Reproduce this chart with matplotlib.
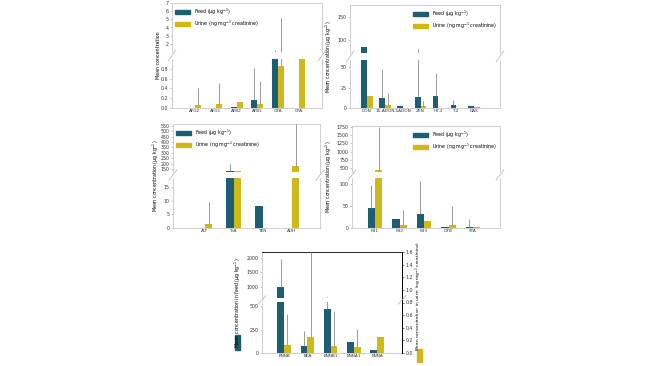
import numpy as np
import matplotlib.pyplot as plt
from matplotlib.patches import Rectangle

TEAL = "#1d5e73"
GOLD = "#cdb919"
ERR = "#8a8a8a"
FS = 3.4

# panel A - aflatoxins, OTA, CPA
a_labels = ["AFG2", "AFG1", "AFB2", "AFB1", "OTA", "CPA"]
a_feed = [0.0, 0.01, 0.02, 0.17, 1.0, 0.0]
a_feed_err = [0.0, 0.0, 0.0, 0.64, 0.26, 0.0]
a_urine = [0.055, 0.09, 0.12, 0.08, 0.86, 1.0]
a_urine_err = [0.35, 0.42, 0.0, 0.48, 4.3, 0.0]

# panel B - trichothecenes, ZEN
b_labels = ["DON", "15-ADON", "3-ADON", "ZEN", "HT-2", "T-2", "DAS"]
b_feed = [84, 12.5, 2.5, 14, 15, 3.4, 2.0]
b_feed_err = [0, 36, 0, 66, 28, 6.6, 0]
b_urine = [15, 3.4, 0.6, 3.0, 0.5, 0.5, 1.0]
b_urine_err = [0, 15, 0, 5, 0, 0, 0]

# panel C - Alternaria toxins
c_labels = ["ALT", "TeA", "TEN", "AOH"]
c_feed = [0.0, 132, 8.0, 0.0]
c_feed_err = [0, 65, 0, 0]
c_urine = [1.4, 128, 0.0, 178]
c_urine_err = [8.1, 0, 0, 400]

# panel D - fumonisins and others
d_labels = ["FB1", "FB2", "FB3", "OTB", "STA"]
d_feed = [45, 20, 32, 2.0, 1.5]
d_feed_err = [52, 0, 75, 0, 18]
d_urine = [440, 7, 15, 7, 2]
d_urine_err = [1320, 33, 0, 43, 0]

# panel E - emerging mycotoxins (urine on right axis)
e_labels = ["ENNB", "BEA", "ENNB1", "ENNA1", "ENNA"]
e_feed = [1010, 73, 470, 115, 30]
e_feed_err = [965, 157, 180, 0, 0]
e_urine = [0.13, 0.25, 0.11, 0.10, 0.25]
e_urine_err = [0.49, 1.35, 0.56, 0.28, 0.0]

feed_label = "Feed (\u03bcg kg$^{-1}$)"
urine_label = "Urine (ng mg$^{-1}$ creatinine)"

W, H = 650, 366
fig = plt.figure(figsize=(W / 100, H / 100), dpi=100)


def px(x0, y0, x1, y1):
    return [x0 / W, 1 - y1 / H, (x1 - x0) / W, (y1 - y0) / H]


def style(ax):
    for s in ax.spines.values():
        s.set_color("#c8c8c8")
        s.set_linewidth(0.6)
    ax.tick_params(labelsize=FS, length=1.5, width=0.4, color="#999999",
                   labelcolor="#333333", pad=1)


def bars(ax, x, w, vals, errs, color):
    ax.bar(x, vals, w, color=color, zorder=2)
    ax.errorbar(x, vals, yerr=[np.zeros(len(vals)), errs], fmt="none",
                ecolor=ERR, elinewidth=0.6, capsize=0, zorder=3)


def breaks(top, bot):
    # diagonal break marks on both sides of the gap
    for xa in (0, 1):
        p1 = fig.transFigure.inverted().transform(bot.transAxes.transform((xa, 1)))
        p2 = fig.transFigure.inverted().transform(top.transAxes.transform((xa, 0)))
        fig.add_artist(plt.Line2D([p1[0] - 0.006, p1[0] + 0.006],
                                  [p1[1] - 0.006, p2[1] + 0.006],
                                  color="#bbbbbb", lw=0.6))


def panel(rt, rb, labels, feed, ferr, urine, uerr, ylt, ylb, tt, tb, xlim, w,
          legend_loc, ylabel, ylab_x, urine_ax=True):
    top = fig.add_axes(rt)
    bot = fig.add_axes(rb)
    x = np.arange(len(labels))
    for ax in (top, bot):
        style(ax)
        bars(ax, x - w / 2, w, feed, ferr, TEAL)
        if urine_ax:
            bars(ax, x + w / 2, w, urine, uerr, GOLD)
        ax.set_xlim(*xlim)
    top.set_ylim(*ylt)
    bot.set_ylim(*ylb)
    top.set_yticks(tt)
    bot.set_yticks(tb)
    top.spines["bottom"].set_visible(False)
    bot.spines["top"].set_visible(False)
    top.tick_params(axis="x", bottom=False, labelbottom=False)
    bot.set_xticks(x)
    bot.set_xticklabels(labels)
    bot.tick_params(axis="x", length=0, labelsize=FS - 0.3)
    breaks(top, bot)
    if legend_loc:
        top.legend([Rectangle((0, 0), 1, 1, color=TEAL), Rectangle((0, 0), 1, 1, color=GOLD)],
                   [feed_label, urine_label], loc=legend_loc, fontsize=FS,
                   frameon=False, handlelength=3.2, handleheight=0.9,
                   borderaxespad=0.3, labelspacing=0.5)
    if ylabel:
        y0 = rb[1]
        y1 = rt[1] + rt[3]
        fig.text(ylab_x, (y0 + y1) / 2, ylabel, rotation=90, ha="center",
                 va="center", fontsize=FS)
    return top, bot


# panel A
panel(px(172, 3, 322, 52), px(172, 59, 322, 108), a_labels, a_feed, a_feed_err,
      a_urine, a_urine_err, (1.0, 7.0), (0, 1.0), [2, 3, 4, 5, 6, 7],
      [0, 0.2, 0.4, 0.6, 0.8], (-1.1, 6.1), 0.29, "upper left",
      "Mean concentration", 158 / W)

# panel B
panel(px(350, 5, 500, 53), px(350, 60, 500, 108), b_labels, b_feed, b_feed_err,
      b_urine, b_urine_err, (72, 176), (0, 59), [100, 150], [0, 25, 50],
      (-0.95, 7.45), 0.32, "upper right",
      "Mean concentration (\u03bcg kg$^{-1}$)", 329 / W)

# panel C
panel(px(173, 124, 320, 172), px(173, 178, 320, 228), c_labels, c_feed, c_feed_err,
      c_urine, c_urine_err, (122, 568), (0, 18.2), list(range(150, 551, 50)),
      [0, 5, 10, 15], (-1.1, 3.97), 0.26, "upper left",
      "Mean concentration (\u03bcg kg$^{-1}$)", 156 / W)

# panel D
panel(px(352, 126, 500, 172), px(352, 178, 500, 228), d_labels, d_feed, d_feed_err,
      d_urine, d_urine_err, (378, 1780), (0, 114), [500, 750, 1000, 1250, 1500, 1750],
      [0, 50, 100], (-0.94, 5.1), 0.29, "upper right",
      "Mean concentration (\u03bcg kg$^{-1}$)", 329 / W)

# panel E with urine on a right-hand axis
e_xlim = (-0.95, 5.07)
e_top, e_bot = panel(px(262, 252, 402, 298), px(262, 302, 402, 353), e_labels,
                     e_feed, e_feed_err, e_urine, e_urine_err, (620, 2207), (0, 545),
                     [1000, 1500, 2000], [0, 250, 500], e_xlim, 0.29, None,
                     "Mean concentration in feed (\u03bcg kg$^{-1}$)", 238 / W,
                     urine_ax=False)
e_top.spines["top"].set_color("black")
e_top.spines["right"].set_visible(False)
e_bot.spines["right"].set_visible(False)

axr = fig.add_axes(px(262, 252, 402, 353), facecolor="none")
xe = np.arange(len(e_labels))
bars(axr, xe + 0.29 / 2, 0.29, e_urine, e_urine_err, GOLD)
axr.set_xlim(*e_xlim)
axr.set_ylim(0, 1.6)
axr.set_yticks(np.arange(0, 1.61, 0.2))
axr.yaxis.tick_right()
axr.tick_params(labelsize=FS, length=1.5, width=0.4, pad=1, labelcolor="#333333")
axr.set_xticks([])
for s in ("top", "left", "bottom"):
    axr.spines[s].set_visible(False)
axr.spines["right"].set_color("black")
axr.spines["right"].set_linewidth(0.7)
fig.text(419 / W, 1 - 296 / H, "Mean concentration in urine (ng mg$^{-1}$ creatinine)",
         rotation=90, ha="center", va="center", fontsize=FS - 0.2)
fig.add_artist(Rectangle((235 / W, 1 - 350 / H), 5 / W, 15 / H, color=TEAL,
                         transform=fig.transFigure))
fig.add_artist(Rectangle((417 / W, 1 - 362 / H), 5 / W, 13 / H, color=GOLD,
                         transform=fig.transFigure))

fig.savefig("out.png", dpi=100)
